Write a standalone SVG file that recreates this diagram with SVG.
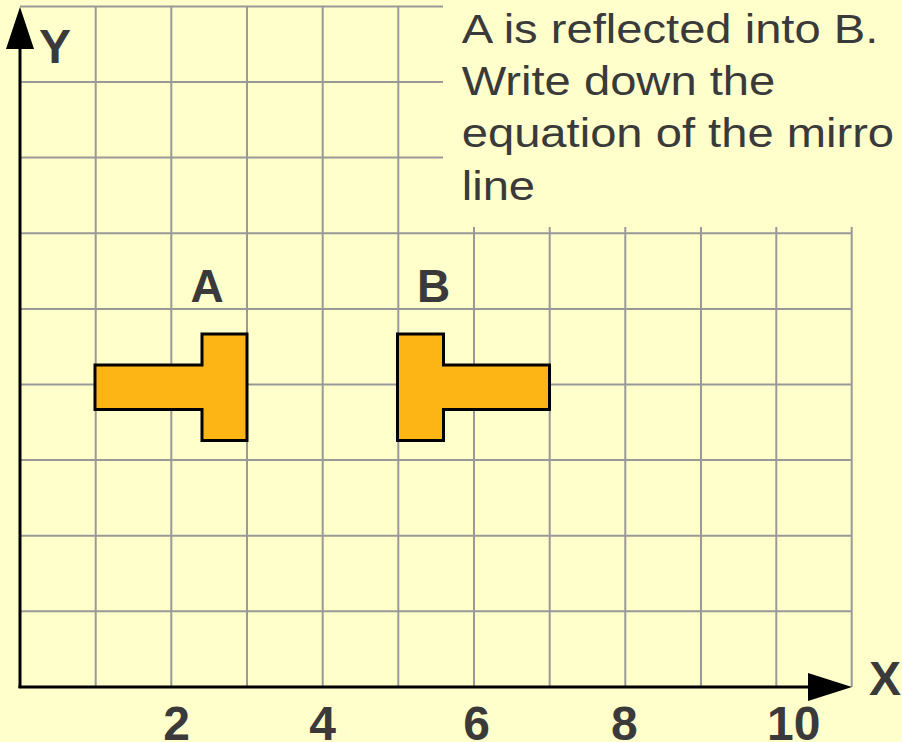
<svg xmlns="http://www.w3.org/2000/svg" width="902" height="742" viewBox="0 0 902 742">
<style>
.grid line{stroke:#999999;stroke-width:2}
.axis{stroke:#000;stroke-width:3}
.lbl{font-family:"Liberation Sans",Arial,sans-serif;font-weight:bold;fill:#3a3a3a}
.txt{font-family:"Liberation Sans",Arial,sans-serif;fill:#3a3a3a;font-size:41px}
.shape{fill:#FDB515;stroke:#000;stroke-width:3;stroke-linejoin:miter}
</style>
<rect x="0" y="0" width="902" height="742" fill="#FFFFCC"/>
<g class="grid" id="grid">
<line x1="20" y1="6.5" x2="443" y2="6.5"/>
<line x1="20" y1="82" x2="443" y2="82"/>
<line x1="20" y1="157.5" x2="443" y2="157.5"/>
<line x1="20" y1="233.3" x2="852" y2="233.3"/>
<line x1="20" y1="309" x2="852" y2="309"/>
<line x1="20" y1="384.6" x2="852" y2="384.6"/>
<line x1="20" y1="460" x2="852" y2="460"/>
<line x1="20" y1="535.7" x2="852" y2="535.7"/>
<line x1="20" y1="611.3" x2="852" y2="611.3"/>
<line x1="95.7" y1="6.5" x2="95.7" y2="687"/>
<line x1="171.3" y1="6.5" x2="171.3" y2="687"/>
<line x1="247" y1="6.5" x2="247" y2="687"/>
<line x1="322.7" y1="6.5" x2="322.7" y2="687"/>
<line x1="398.3" y1="6.5" x2="398.3" y2="687"/>
<line x1="474" y1="227" x2="474" y2="687"/>
<line x1="549.7" y1="227" x2="549.7" y2="687"/>
<line x1="625.3" y1="227" x2="625.3" y2="687"/>
<line x1="701" y1="227" x2="701" y2="687"/>
<line x1="776.3" y1="227" x2="776.3" y2="687"/>
<line x1="851.7" y1="227" x2="851.7" y2="687"/>
</g>
<g id="axes">
<line class="axis" x1="20" y1="688" x2="20" y2="40"/>
<polygon points="20,7 6,49 34,49" fill="#000"/>
<line class="axis" x1="18.5" y1="687" x2="815" y2="687"/>
<polygon points="852,687 808,673 808,701" fill="#000"/>
<text class="lbl" x="39" y="63" font-size="48">Y</text>
<text class="lbl" x="869" y="695" font-size="48">X</text>
<text class="lbl" x="176.5" y="740" font-size="48" text-anchor="middle">2</text>
<text class="lbl" x="322.5" y="740" font-size="48" text-anchor="middle">4</text>
<text class="lbl" x="476.6" y="740" font-size="48" text-anchor="middle">6</text>
<text class="lbl" x="624.4" y="740" font-size="48" text-anchor="middle">8</text>
<text class="lbl" x="793.8" y="740" font-size="48" text-anchor="middle">10</text>
</g>
<g id="shapeA">
<polygon class="shape" points="95,365 202,365 202,334 247,334 247,440.5 202,440.5 202,409.5 95,409.5"/>
<text class="lbl" x="207" y="302" font-size="46" text-anchor="middle">A</text>
</g>
<g id="shapeB">
<polygon class="shape" points="397.5,334 443.5,334 443.5,365 549.5,365 549.5,409.5 443.5,409.5 443.5,440.5 397.5,440.5"/>
<text class="lbl" x="433.7" y="302" font-size="46" text-anchor="middle">B</text>
</g>
<g id="question" transform="translate(461.7,0) scale(1.15,1)">
<text class="txt" x="0" y="42.7">A is reflected into B.</text>
<text class="txt" x="0" y="95">Write down the</text>
<text class="txt" x="0" y="147.5">equation of the mirro</text>
<text class="txt" x="0" y="200">line</text>
</g>
</svg>
